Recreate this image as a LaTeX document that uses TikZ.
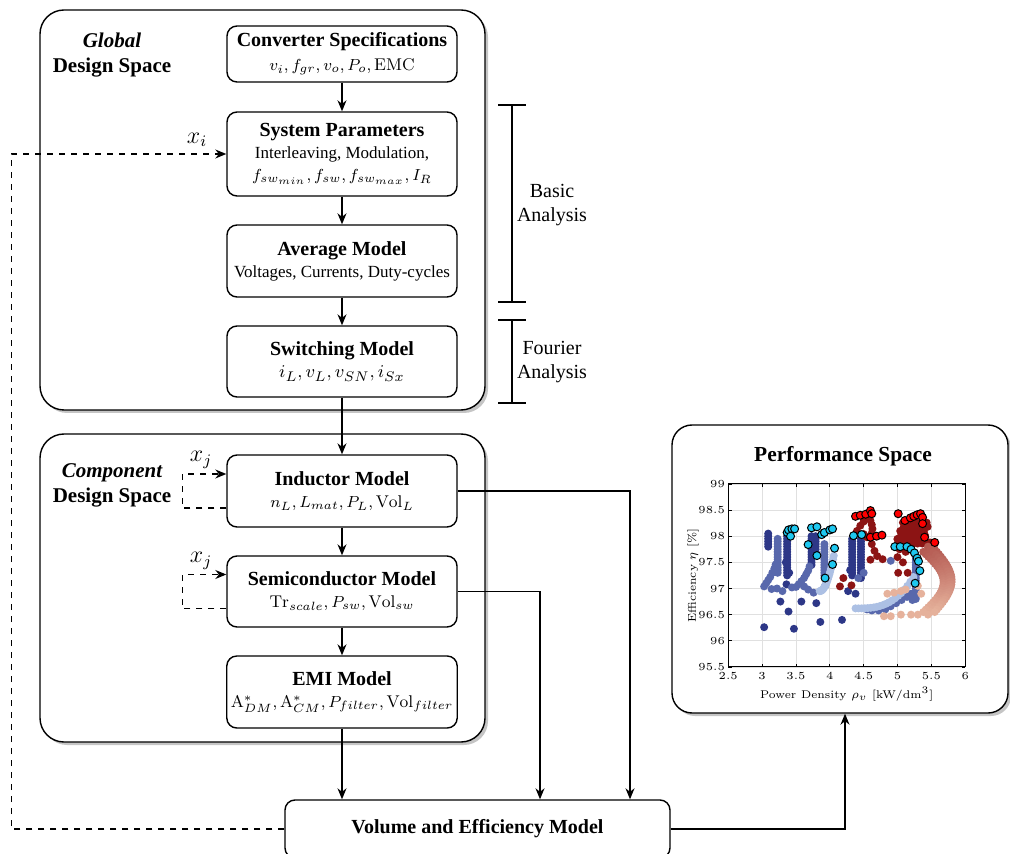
\documentclass[tikz,border=0pt]{standalone}
\usepackage{fontspec}
\newfontfamily\tnr{Liberation Serif}
\usetikzlibrary{arrows.meta,shadows}

\definecolor{navy}{RGB}{45,55,135}
\definecolor{midblue}{RGB}{88,104,172}
\definecolor{lightblue}{RGB}{172,192,228}
\definecolor{darkred}{RGB}{140,20,20}
\definecolor{midred}{RGB}{180,90,82}
\definecolor{salmon}{RGB}{230,178,156}
\definecolor{ptred}{RGB}{255,0,0}
\definecolor{ptcyan}{RGB}{30,200,240}

\newcommand{\blocktitle}[1]{{\fontsize{10}{12}\selectfont\bfseries #1}}

\tikzset{
  block/.style={draw, rounded corners=5pt, line width=0.7pt, minimum width=115pt,
    align=center, inner sep=2pt, font=\tnr\fontsize{8.5}{11}\selectfont},
  space/.style={draw, fill=white, rounded corners=12pt, line width=0.7pt,
    drop shadow={shadow xshift=1.5pt, shadow yshift=-1.5pt, fill=black!45}},
  spacelabel/.style={align=center, font=\tnr\fontsize{10.5}{12.5}\selectfont\bfseries},
  flow/.style={-{Stealth[length=5.5pt,width=4.5pt]}, line width=0.6pt},
  loopback/.style={flow, dashed},
  bracket/.style={line width=0.6pt},
  plottext/.style={font=\rmfamily\fontsize{5.4}{6.5}\selectfont, inner sep=1.5pt},
}

\begin{document}
\begin{tikzpicture}[x=0.5pt,y=-0.5pt,font=\tnr]
  \useasboundingbox (0,0) rectangle (1010,854) ;
  \clip (0,0) rectangle (1010,854) ;

  % design spaces
  \node[space, minimum width=222.5pt, minimum height=200pt] (global) at (262.5,210) {} ;
  \node[space, minimum width=222.5pt, minimum height=154pt] (component) at (262.5,588) {} ;
  \node[spacelabel] (globallabel) at (112,55) {{\itshape Global}\\Design Space} ;
  \node[spacelabel] (componentlabel) at (112,485) {{\itshape Component}\\Design Space} ;

  % global models
  \node[block, minimum height=28pt] (spec) at (342,54)
    {\blocktitle{Converter Specifications}\\[1pt] $v_i,f_{gr},v_o,P_o,\mathrm{EMC}$} ;
  \node[block, minimum height=42pt] (sys) at (342,154)
    {\blocktitle{System Parameters}\\ Interleaving, Modulation,\\ $f_{sw_{min}},f_{sw},f_{sw_{max}},I_R$} ;
  \node[block, minimum height=36pt] (avg) at (342,261)
    {\blocktitle{Average Model}\\ Voltages, Currents, Duty-cycles} ;
  \node[block, minimum height=35.5pt] (sw) at (342,361.5)
    {\blocktitle{Switching Model}\\ \fontsize{9.5}{11}\selectfont $i_L,v_L,v_{SN},i_{Sx}$} ;

  % component models
  \node[block, minimum height=36pt] (ind) at (342,491)
    {\blocktitle{Inductor Model}\\ $n_L,L_{mat},P_L,\mathrm{Vol}_L$} ;
  \node[block, minimum height=35.5pt] (semi) at (342,591.5)
    {\blocktitle{Semiconductor Model}\\ $\mathrm{Tr}_{scale},P_{sw},\mathrm{Vol}_{sw}$} ;
  \node[block, minimum height=36pt] (emi) at (342,692)
    {\blocktitle{EMI Model}\\ $\mathrm{A}^*_{DM},\mathrm{A}^*_{CM},P_{filter},\mathrm{Vol}_{filter}$} ;

  \node[block, minimum width=192.5pt, minimum height=29pt] (vol) at (477.5,829)
    {\blocktitle{Volume and Efficiency Model}} ;
  \node[space, rounded corners=10pt, minimum width=168pt, minimum height=144pt] (perf) at (840,569) {} ;
  \node[font=\tnr\fontsize{10.7}{13}\selectfont\bfseries] (perftitle) at (843,456) {Performance Space} ;

  % connections
  \draw[flow] (spec) -- (sys) ;
  \draw[flow] (sys) -- (avg) ;
  \draw[flow] (avg) -- (sw) ;
  \draw[flow] (sw) -- (ind) ;
  \draw[flow] (ind) -- (semi) ;
  \draw[flow] (semi) -- (emi) ;
  \draw[flow] (emi.south) -- (emi.south |- vol.north) ;
  \draw[flow] (ind.east) -| ([xshift=76.25pt]vol.north) ;
  \draw[flow] (semi.east) -| ([xshift=31.25pt]vol.north) ;
  \draw[flow] (vol.east) -| ([xshift=2.5pt]perf.south) ;

  % iterations
  \draw[loopback] (vol.west) -- ++(-273,0) |- (sys.west) ;
  \node (xi) at (197,140) {\large $x_i$} ;
  \draw[loopback] ([yshift=-8.5pt]ind.west) -- ++(-44,0) |- ([yshift=8.5pt]ind.west) ;
  \node (xjind) at (201,460) {\large $x_j$} ;
  \draw[loopback] ([yshift=-8.5pt]semi.west) -- ++(-44,0) |- ([yshift=8.5pt]semi.west) ;
  \node (xjsemi) at (201,561) {\large $x_j$} ;

  % analysis brackets
  \draw[bracket] (498,105) -- (526,105) (512,105) -- (512,302) (498,302) -- (526,302) ;
  \node[align=center] (basic) at (552,205) {Basic\\Analysis} ;
  \draw[bracket] (498,320) -- (526,320) (512,320) -- (512,403) (498,403) -- (526,403) ;
  \node[align=center] (fourier) at (552,362) {Fourier\\Analysis} ;

  % pareto plot
  \begin{scope}[shift={(559,5661.6)}, x=33.85pt, y=26.15pt]
    \draw[black!12, line width=0.4pt] (2.5,95.5) grid[xstep=0.5, ystep=0.5] (6,99) ;
    % blue designs
    \foreach \x/\a/\n in {3.09/97.8/5,3.37/97.25/15,3.73/97.45/11,3.79/97.7/6,4.33/97.25/14,4.46/97.2/15}
      \foreach \k in {0,...,\n}
        \fill[navy] (\x,{\a+0.05*\k}) circle (2pt) ;
    \foreach \x/\a/\n in {3.23/97.3/13,3.92/97.25/12,5.27/96.8/16}
      \foreach \k in {0,...,\n}
        \fill[midblue] (\x,{\a+0.05*\k}) circle (2pt) ;
    \foreach \x/\y in {3.27/96.75,3.39/96.56,3.03/96.26,3.47/96.23,3.58/96.75,3.8/96.72,3.86/96.36,
        4.18/96.4,3.36/97.08,4.27/96.95,4.38/96.9,4.3/97.35,3.93/97.05,3.35/97.5,3.4/97.3}
      \fill[navy] (\x,\y) circle (2pt) ;
    \foreach \x/\y in {3.03/97.04,3.06/97.1,3.09/97.16,3.12/97.22,3.15/97.3,3.18/97.38,3.2/97.46,
        3.14/96.99,3.22/97.0,3.3/96.95,3.5/97.03,3.54/97.08,3.58/97.14,3.62/97.2,3.65/97.27,
        3.68/97.34,3.7/97.42,3.62/97.04,3.68/96.98,3.76/96.92,3.44/97.02,4.5/97.3,4.9/97.53,
        4.55/96.6,4.62/96.58,4.72/96.58,4.82/96.6,4.9/96.66,4.98/96.72,5.06/96.78,5.14/96.84,
        5.2/96.9,5.22/96.78,4.42/97.2}
      \fill[midblue] (\x,\y) circle (2pt) ;
    \foreach \t in {0,0.05,...,1}
      \fill[lightblue] ({3.85+0.22*\t},{96.95+0.75*\t*\t}) circle (2pt)
        ({4.38+0.9*\t},{96.62+0.7*\t*\t*\t}) circle (2pt) ;
    % red designs
    \foreach \y [count=\j] in {97.86,97.94,...,98.3}
      \foreach \x in {4.96,5.03,...,5.33}
        \fill[darkred] ({\x+0.035*mod(\j,2)+0.02*\j},\y) circle (2pt) ;
    \foreach \x/\y in {4.36/98.02,4.4/98.1,4.45/98.2,4.5/98.28,4.55/98.36,4.6/98.3,4.62/98.22,
        4.63/98.14,4.62/98.06,4.6/98.0,4.62/97.85,4.66/97.72,4.7/97.62,4.6/97.55,4.78/97.56,
        4.2/97.2,4.15/97.04,4.32/97.06,5.01/97.3,4.5/98.04,4.55/97.98,5.03/97.75,5.12/97.7,
        5.08/97.5,5.15/97.3,5.0/97.6,5.0/97.95,5.42/97.85,5.48/97.88,5.55/97.86}
      \fill[darkred] (\x,\y) circle (2pt) ;
    \foreach \t [evaluate=\t as \p using int(100*\t)] in {0,0.04,...,1}
      \fill[salmon!\p!midred] ({5.45+0.32*sin(180*\t)},{97.8-1.3*\t}) circle (2pt)
        ({5.38+0.3*sin(180*\t)},{97.7-1.15*\t}) circle (2pt)
        ({5.55+0.25*sin(180*\t)},{97.75-1.2*\t}) circle (2pt) ;
    \foreach \x/\y in {5.3/96.5,5.2/96.5,5.05/96.5,4.9/96.47,4.8/96.47,4.85/96.9,4.95/96.92,
        5.05/96.95,5.12/96.98,5.35/96.9,5.3/97.05}
      \fill[salmon] (\x,\y) circle (2pt) ;
    % pareto fronts
    \foreach \x/\y in {4.38/98.38,4.45/98.4,4.53/98.42,4.6/98.49,4.62/98.43,4.6/97.98,4.69/98.0,
        4.77/98.02,5.01/98.43,5.11/98.3,5.19/98.35,5.24/98.38,5.29/98.41,5.34/98.43,5.37/98.36,
        5.37/98.24,5.4/97.98,5.55/97.88}
      \filldraw[fill=ptred, draw=black, line width=0.5pt] (\x,\y) circle (2pt) ;
    \foreach \x/\y in {3.37/98.07,3.39/98.12,3.44/98.14,3.42/98.0,3.48/98.14,3.68/97.84,3.73/98.16,
        3.81/98.18,3.81/97.63,3.93/97.2,3.88/98.03,3.92/98.07,4.0/98.12,4.04/98.14,4.07/97.77,
        4.04/97.46,4.35/98.01,4.47/98.03,4.96/97.8,5.04/97.8,5.14/97.8,5.2/97.75,5.25/97.68,
        5.29/97.58,5.31/97.52,5.33/97.34,5.26/97.1}
      \filldraw[fill=ptcyan, draw=black, line width=0.5pt] (\x,\y) circle (2pt) ;
    % axes
    \draw[line width=0.5pt] (2.5,95.5) rectangle (6,99) ;
    \foreach \x [count=\i] in {2.5,3,3.5,4,4.5,5,5.5,6} {
      \draw[line width=0.4pt] (\x,95.5) -- ++(0,0.06) (\x,99) -- ++(0,-0.06) ;
      \node[plottext, below, yshift=-1pt] (xtick\i) at (\x,95.5) {\x} ;
    }
    \foreach \y [count=\i] in {95.5,96,96.5,97,97.5,98,98.5,99} {
      \draw[line width=0.4pt] (2.5,\y) -- ++(0.05,0) (6,\y) -- ++(-0.05,0) ;
      \node[plottext, left] (ytick\i) at (2.5,\y) {\y} ;
    }
    \node[plottext, font=\rmfamily\fontsize{5.6}{7}\selectfont] (xlabel) at (4.25,94.98)
      {Power Density $\rho_v$ [kW/dm$^3$]} ;
    \node[plottext, font=\rmfamily\fontsize{5.6}{7}\selectfont, rotate=90] (ylabel) at (1.98,97.25)
      {Efficiency $\eta$ [\%]} ;
  \end{scope}
\end{tikzpicture}
\end{document}
